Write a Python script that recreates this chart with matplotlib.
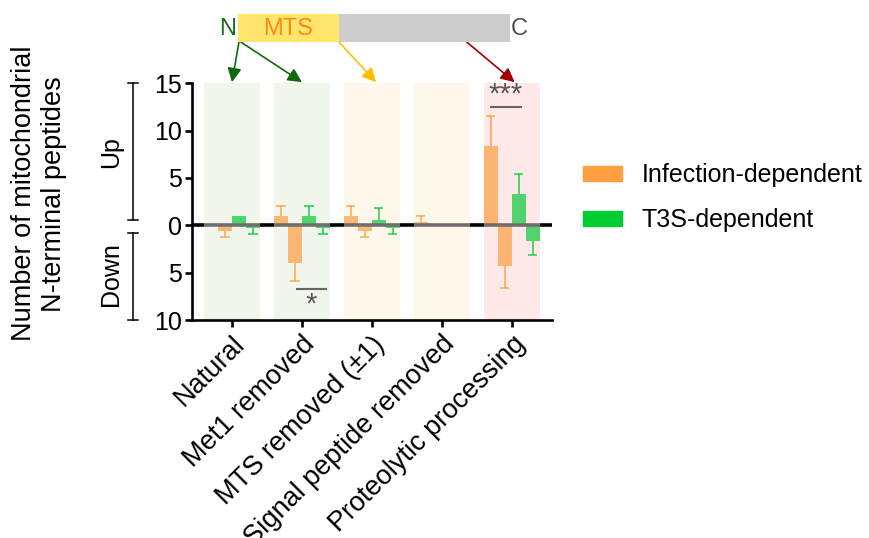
import matplotlib
matplotlib.use("Agg")
import matplotlib.pyplot as plt
from matplotlib.patches import Rectangle, Patch
from matplotlib.transforms import blended_transform_factory
import numpy as np

plt.rcParams['font.family'] = ['Liberation Sans', 'DejaVu Sans']

categories = ['Natural', 'Met1 removed', 'MTS removed (±1)',
              'Signal peptide removed', 'Proteolytic processing']
infection_up = [0, 1, 1, 0.3, 8.4]
infection_up_err = [0, 1, 1, 0.7, 3.1]
infection_down = [0.6, 4, 0.6, 0, 4.3]
infection_down_err = [0.6, 1.9, 0.6, 0, 2.3]
t3s_up = [1, 1, 0.6, 0, 3.3]
t3s_up_err = [0, 1, 1.2, 0, 2.1]
t3s_down = [0.3, 0.3, 0.3, 0, 1.7]
t3s_down_err = [0.6, 0.6, 0.6, 0, 1.4]
y_ticks = [-10, -5, 0, 5, 10, 15]
y_ticklabels = ['10', '5', '0', '5', '10', '15']

band_colors = ['#f0f6ec', '#f0f6ec', '#fef8eb', '#fef8eb', '#ffe8e8']
orange = '#ff9a3c'
green = '#00c832'

fig = plt.figure(figsize=(8.69, 5.38), dpi=100)
ax = fig.add_axes([0.221, 0.405, 0.414, 0.4405])

x = np.arange(len(categories))
w = 0.2

# background bands
for i, c in enumerate(band_colors):
    ax.bar(x[i], 25, bottom=-10, width=0.8, color=c, zorder=2)

ax.axhline(0, color='black', lw=2.6, zorder=1)

series = [
    (-0.3, np.array(infection_up), np.array(infection_up_err), 1, orange),
    (-0.1, -np.array(infection_down), np.array(infection_down_err), -1, orange),
    (0.1, np.array(t3s_up), np.array(t3s_up_err), 1, green),
    (0.3, -np.array(t3s_down), np.array(t3s_down_err), -1, green),
]
for off, vals, err, sign, col in series:
    xs = x + off
    ax.bar(xs, vals, width=w, color=col, alpha=0.68, zorder=3, linewidth=0)
    m = err > 0
    ends = vals + sign * err
    ax.vlines(xs[m], vals[m], ends[m], color=col, alpha=0.68, lw=1.4, zorder=3)
    ax.hlines(ends[m], xs[m] - 0.065, xs[m] + 0.065, color=col, alpha=0.68,
              lw=1.4, zorder=3)

# zero line seen through the bands
ax.hlines(np.zeros(len(x)), x - 0.4, x + 0.4, color='#6e6e6e', lw=2.6, zorder=4)

# significance marks
ax.plot([4 - 0.3, 4 + 0.13], [12.5, 12.5], color='#666666', lw=1.5, zorder=5)
ax.text(4 - 0.085, 12.3, '***', ha='center', va='bottom', fontsize=21,
        color='#555555', zorder=5)
ax.plot([1 - 0.07, 1 + 0.34], [-6.7, -6.7], color='#666666', lw=1.5, zorder=5)
ax.text(1 + 0.135, -6.9, '*', ha='center', va='top', fontsize=21,
        color='#555555', zorder=5)

ax.set_xlim(-0.571, 4.571)
ax.set_ylim(-10, 15)
ax.set_yticks(y_ticks)
ax.set_yticklabels(y_ticklabels)
ax.set_xticks(x)
ax.set_xticklabels(categories, rotation=45, ha='right', rotation_mode='anchor')
for s in ['top', 'right']:
    ax.spines[s].set_visible(False)
for s in ['left', 'bottom']:
    ax.spines[s].set_linewidth(1.9)
ax.tick_params(axis='both', width=1.9, length=5, labelsize=18, pad=2)
ax.tick_params(axis='x', pad=3, labelsize=19.5)

# Up / Down brackets
tr = blended_transform_factory(ax.transAxes, ax.transData)
bx = -0.164
cw = 0.014
for y0, y1 in [(15, 0.55), (-0.85, -10)]:
    ax.plot([bx, bx], [y0, y1], color='black', lw=1.1, transform=tr, clip_on=False)
    for yy in (y0, y1):
        ax.plot([bx - cw, bx + cw], [yy, yy], color='black', lw=1.1,
                transform=tr, clip_on=False)
ax.text(-0.225, 7.7, 'Up', rotation=90, ha='center', va='center', fontsize=18,
        transform=tr)
ax.text(-0.225, -5.1, 'Down', rotation=90, ha='center', va='center', fontsize=18,
        transform=tr)

fig.text(0.045, 0.64, 'Number of mitochondrial\nN-terminal peptides',
         rotation=90, ha='center', va='center', fontsize=19.5,
         multialignment='center')

# protein diagram
fig.add_artist(Rectangle((0.274, 0.922), 0.116, 0.052, transform=fig.transFigure,
                         color='#ffe56e', lw=0))
fig.add_artist(Rectangle((0.390, 0.922), 0.197, 0.052, transform=fig.transFigure,
                         color='#cccccc', lw=0))
fig.text(0.262, 0.947, 'N', color='#176e17', fontsize=17, ha='center', va='center')
fig.text(0.331, 0.947, 'MTS', color='#ff8a10', fontsize=17, ha='center', va='center')
fig.text(0.598, 0.947, 'C', color='#505050', fontsize=17, ha='center', va='center')

arrows = [
    ((0.275, 0.922), (0, 15.1), '#11690f'),
    ((0.277, 0.922), (1, 15.1), '#11690f'),
    ((0.390, 0.922), (2.06, 15.1), '#ffbf00'),
    ((0.537, 0.922), (4.04, 15.1), '#a00000'),
]
for src, dst, col in arrows:
    ax.annotate('', xy=dst, xycoords='data', xytext=src,
                textcoords='figure fraction',
                arrowprops=dict(arrowstyle='-|>', color=col, lw=1.2,
                                mutation_scale=21, shrinkA=0, shrinkB=0),
                annotation_clip=False)

handles = [Patch(color='#ff9f40', label='Infection-dependent'),
           Patch(color='#00cc33', label='T3S-dependent')]
fig.legend(handles=handles, loc='upper left', bbox_to_anchor=(0.671, 0.697),
           frameon=False, fontsize=18, handlelength=1.55, handleheight=0.56,
           handletextpad=0.8, labelspacing=0.85, borderpad=0, borderaxespad=0)

fig.savefig('out.png', dpi=100)
